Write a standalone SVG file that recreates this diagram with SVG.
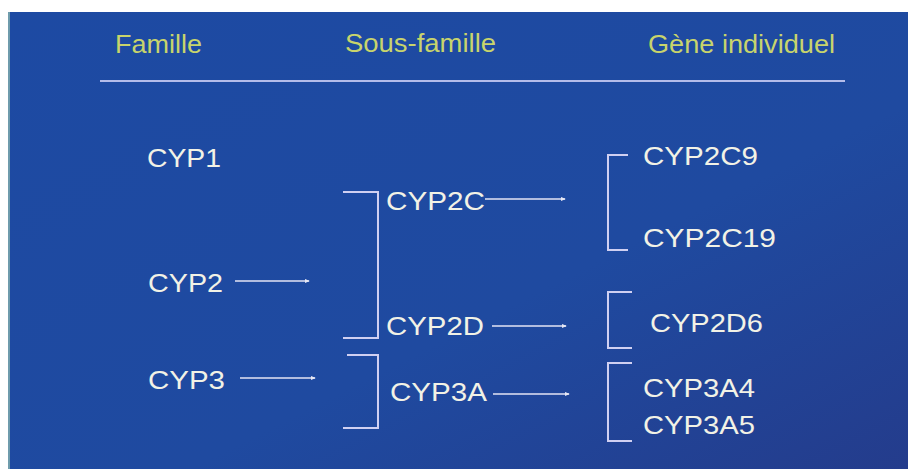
<svg xmlns="http://www.w3.org/2000/svg" width="908" height="469" viewBox="0 0 908 469">
<defs>
<linearGradient id="bg" x1="0" y1="0" x2="1" y2="1">
<stop offset="0" stop-color="#1d4aa3"/>
<stop offset="0.6" stop-color="#1f4aa0"/>
<stop offset="1" stop-color="#243c8c"/>
</linearGradient>
<marker id="ah" viewBox="0 0 6 6" refX="5" refY="3" markerWidth="5" markerHeight="5" markerUnits="userSpaceOnUse" orient="auto">
<path d="M0,0.5 L6,3 L0,5.5 Z" fill="#e8e8f4"/>
</marker>
<style>
.hd{font-family:"Liberation Sans",Arial,sans-serif;font-size:25px;fill:#c8d46c}
.tx{font-family:"Liberation Sans",Arial,sans-serif;font-size:26px;fill:#f2f2e6}
.br{fill:none;stroke:#d0d0f2;stroke-width:2}
.ar{fill:none;stroke:#e4e4f4;stroke-width:1.6;marker-end:url(#ah)}
</style>
</defs>
<rect x="0" y="0" width="908" height="469" fill="#ffffff"/>
<rect x="9" y="12" width="899" height="457" fill="url(#bg)"/>
<rect x="8" y="12" width="2" height="457" fill="#6f9cac"/>

<g id="headers">
<text class="hd" x="115" y="53" textLength="87" lengthAdjust="spacingAndGlyphs">Famille</text>
<text class="hd" x="345" y="52" textLength="151" lengthAdjust="spacingAndGlyphs">Sous-famille</text>
<text class="hd" x="648" y="53" textLength="187" lengthAdjust="spacingAndGlyphs">Gène individuel</text>
<line x1="100" y1="81" x2="845" y2="81" stroke="#b4bcea" stroke-width="2.2"/>
</g>

<g id="cyp1"><text class="tx" x="147" y="167" textLength="74" lengthAdjust="spacingAndGlyphs">CYP1</text></g>
<g id="cyp2"><text class="tx" x="148" y="292" textLength="75" lengthAdjust="spacingAndGlyphs">CYP2</text></g>
<g id="cyp3"><text class="tx" x="148" y="389" textLength="77" lengthAdjust="spacingAndGlyphs">CYP3</text></g>
<g id="cyp2c"><text class="tx" x="386" y="210" textLength="99" lengthAdjust="spacingAndGlyphs">CYP2C</text></g>
<g id="cyp2d"><text class="tx" x="386" y="335" textLength="98" lengthAdjust="spacingAndGlyphs">CYP2D</text></g>
<g id="cyp3a"><text class="tx" x="390" y="401" textLength="97" lengthAdjust="spacingAndGlyphs">CYP3A</text></g>
<g id="cyp2c9"><text class="tx" x="643" y="165" textLength="115" lengthAdjust="spacingAndGlyphs">CYP2C9</text></g>
<g id="cyp2c19"><text class="tx" x="643" y="247" textLength="133" lengthAdjust="spacingAndGlyphs">CYP2C19</text></g>
<g id="cyp2d6"><text class="tx" x="650" y="332" textLength="113" lengthAdjust="spacingAndGlyphs">CYP2D6</text></g>
<g id="cyp3a4"><text class="tx" x="643" y="397" textLength="112" lengthAdjust="spacingAndGlyphs">CYP3A4</text></g>
<g id="cyp3a5"><text class="tx" x="643" y="434" textLength="112" lengthAdjust="spacingAndGlyphs">CYP3A5</text></g>

<g id="connectors">
<line class="ar" x1="235" y1="281" x2="309" y2="281"/>
<line class="ar" x1="240" y1="378" x2="315" y2="378"/>
<line class="ar" x1="485" y1="199" x2="565" y2="199"/>
<line class="ar" x1="492" y1="326" x2="566" y2="326"/>
<line class="ar" x1="493" y1="394" x2="569" y2="394"/>
<polyline class="br" points="343,192 378,192 378,338 343,338"/>
<polyline class="br" points="347,355 378,355 378,428 343,428"/>
<polyline class="br" points="628,155 608,155 608,250 628,250"/>
<polyline class="br" points="632,292 608,292 608,348 632,348"/>
<polyline class="br" points="632,363 608,363 608,441 632,441"/>
</g>
</svg>
